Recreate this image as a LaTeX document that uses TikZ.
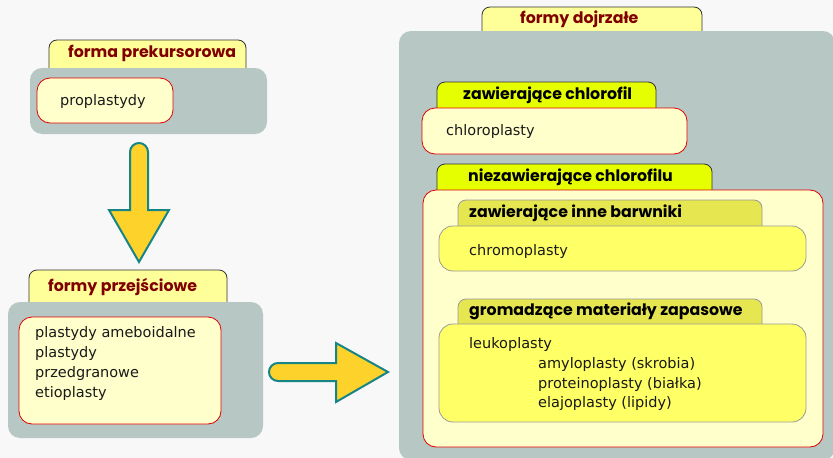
\documentclass[tikz,border=0pt]{standalone}
\usepackage{fontspec}
\setmainfont{DejaVu Sans}
\newfontfamily\hdr{Poppins}
\definecolor{bgc}{HTML}{F8F8F8}
\definecolor{greybox}{HTML}{B6C7C4}
\definecolor{lightyel}{HTML}{FFFFCC}
\definecolor{tabyel}{HTML}{FFFF99}
\definecolor{limetab}{HTML}{E6FF00}
\definecolor{olivetab}{HTML}{E6E650}
\definecolor{yelbox}{HTML}{FFFF66}
\definecolor{arrowfill}{HTML}{FDD22B}
\definecolor{arrowline}{HTML}{178585}
\definecolor{darkred}{HTML}{800000}
\definecolor{redline}{HTML}{E00000}
\begin{document}
\begin{tikzpicture}[x=1pt,y=-1pt,
  outer/.style={fill=greybox,rounded corners=12},
  inbox/.style={fill=lightyel,draw=redline,line width=0.8pt,rounded corners=13},
  ybox/.style={fill=yelbox,draw=black!40,line width=0.8pt,rounded corners=14},
  tabshape/.style={draw=black!80,line width=0.8pt},
  bigarrow/.style={fill=arrowfill,draw=arrowline,line width=2pt,line join=miter},
  body/.style={anchor=west,inner sep=0pt,font=\fontsize{14.5}{20}\selectfont,text=black!90},
  htop/.style={anchor=west,inner sep=0pt,font=\hdr\bfseries\fontsize{15.8}{18}\selectfont,text=darkred},
  hin/.style={anchor=west,inner sep=0pt,font=\hdr\bfseries\fontsize{15.8}{18}\selectfont,text=black}]
\fill[bgc] (0,0) rectangle (833,458);
\useasboundingbox (0,0) rectangle (833,458);

% ---- forma prekursorowa
\filldraw[tabshape,fill=tabyel] (49,72) [rounded corners=8] -- (49,40) -- (246,40) [sharp corners] -- (246,72);
\fill[outer] (30,68) rectangle (267,134);
\node[htop] (t1) at (68,53) {forma prekursorowa};
\draw[inbox] (37,78) rectangle (173,123);
\node[body] (proplastydy) at (60,101) {proplastydy};

% ---- down arrow
\filldraw[bigarrow] (130,210) [rounded corners=9] -- (130,143) -- (148,143) [sharp corners] -- (148,210) -- (169,210) -- (139,262) -- (109,210) -- cycle;

% ---- formy przejsciowe
\filldraw[tabshape,fill=tabyel] (29,306) [rounded corners=8] -- (29,270) -- (227,270) [sharp corners] -- (227,306);
\fill[outer] (8,302) rectangle (263,438);
\node[htop] (t2) at (48,287) {formy przejściowe};
\draw[inbox] (19,317) rectangle (221,424);
\node[body] (l1) at (35,333) {plastydy ameboidalne};
\node[body] (l2) at (35,353) {plastydy};
\node[body] (l3) at (35,373) {przedgranowe};
\node[body] (l4) at (35,393) {etioplasty};

% ---- right arrow
\filldraw[bigarrow] (336,363) [rounded corners=9] -- (269,363) -- (269,381) [sharp corners] -- (336,381) -- (336,402) -- (388,372) -- (336,343) -- cycle;

% ---- formy dojrzale
\filldraw[tabshape,fill=tabyel] (482,35) [rounded corners=8] -- (482,7) -- (702,7) [sharp corners] -- (702,35);
\fill[outer] (399,31) rectangle (835,460);
\node[htop] (t3) at (520,19) {formy dojrzałe};

% zawierajace chlorofil
\filldraw[tabshape,fill=limetab] (437,112) [rounded corners=8] -- (437,82) -- (656,82) [sharp corners] -- (656,112);
\node[hin] (t4) at (463,95) {zawierające chlorofil};
\draw[inbox] (422,108) rectangle (687,154);
\node[body] (chl) at (446,131) {chloroplasty};

% niezawierajace chlorofilu
\filldraw[tabshape,fill=limetab] (437,194) [rounded corners=8] -- (437,164) -- (712,164) [sharp corners] -- (712,194);
\node[hin] (t5) at (468,177) {niezawierające chlorofilu};
\draw[inbox] (423,190) rectangle (823,447);

% zawierajace inne barwniki
\filldraw[draw=black!40,line width=0.8pt,fill=olivetab] (458,230) [rounded corners=8] -- (458,200) -- (762,200) [sharp corners] -- (762,230);
\node[hin] (t6) at (469,213) {zawierające inne barwniki};
\draw[ybox] (439,226) rectangle (806,271);
\node[body] (chr) at (469,251) {chromoplasty};

% gromadzace materialy zapasowe
\filldraw[draw=black!40,line width=0.8pt,fill=olivetab] (458,328) [rounded corners=8] -- (458,299) -- (762,299) [sharp corners] -- (762,328);
\node[hin] (t7) at (469,311) {gromadzące materiały zapasowe};
\draw[ybox] (439,324) rectangle (806,422);
\node[body] (leu) at (469,344) {leukoplasty};
\node[body] (amy) at (538,364) {amyloplasty (skrobia)};
\node[body] (pro) at (538,384) {proteinoplasty (białka)};
\node[body] (ela) at (538,403) {elajoplasty (lipidy)};
\end{tikzpicture}
\end{document}
